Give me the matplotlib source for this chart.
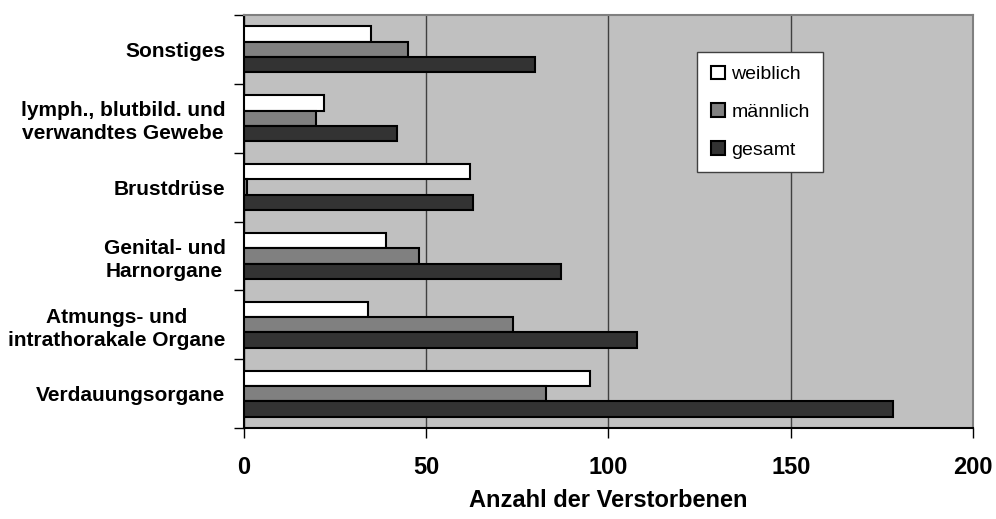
import numpy as np
import matplotlib.pyplot as plt

# Krebs-Todesursachen nach Lokalisation
kategorien = ["Verdauungsorgane",
              "Atmungs- und\nintrathorakale Organe",
              "Genital- und\nHarnorgane",
              "Brustdrüse",
              "lymph., blutbild. und\nverwandtes Gewebe",
              "Sonstiges"]
weiblich = [95, 34, 39, 62, 22, 35]
maennlich = [83, 74, 48, 1, 20, 45]
gesamt = [178, 108, 87, 63, 42, 80]

plt.rcParams['font.family'] = ['Liberation Sans', 'DejaVu Sans']

fig = plt.figure(figsize=(9.96, 5.19), dpi=100)
ax = fig.add_axes([0.2445, 0.1753, 0.7325, 0.7958])
ax.set_facecolor("#c0c0c0")

y = np.arange(len(kategorien))
h = 0.222
ax.barh(y + h, weiblich, height=h, color="white", edgecolor="black", linewidth=1.5, label="weiblich", zorder=3)
ax.barh(y, maennlich, height=h, color="#808080", edgecolor="black", linewidth=1.5, label="männlich", zorder=3)
ax.barh(y - h, gesamt, height=h, color="#333333", edgecolor="black", linewidth=1.5, label="gesamt", zorder=3)

ax.set_xlim(0, 200)
ax.set_ylim(-0.5, len(kategorien) - 0.5)
ax.set_xticks([0, 50, 100, 150, 200])
ax.set_xticklabels(["0", "50", "100", "150", "200"], fontsize=17, fontweight="bold")
ax.xaxis.grid(True, color="#404040", linewidth=1, zorder=1)
ax.tick_params(axis="x", direction="out", length=7, width=1, pad=13)

# Striche an den Kategoriegrenzen, Beschriftung in der Mitte
ax.set_yticks(np.arange(-0.5, len(kategorien), 1))
ax.set_yticklabels([])
ax.tick_params(axis="y", which="major", direction="out", length=7, width=1)
ax.set_yticks(y, minor=True)
ax.set_yticklabels(kategorien, minor=True, fontsize=15, fontweight="bold",
                   multialignment="center", linespacing=1.25)
ax.tick_params(axis="y", which="minor", length=0, pad=13)

for s in ["top", "right"]:
    ax.spines[s].set_color("#808080")
    ax.spines[s].set_linewidth(1.5)
for s in ["left", "bottom"]:
    ax.spines[s].set_color("black")
    ax.spines[s].set_linewidth(1.5)

leg = ax.legend(loc="upper left", bbox_to_anchor=(0.622, 0.91), borderaxespad=0,
                fancybox=False, framealpha=1, edgecolor="#404040",
                prop={"size": 14},
                handlelength=0.7, handleheight=0.7, handletextpad=0.35,
                labelspacing=1.03, borderpad=0.7)
leg.get_frame().set_linewidth(1)

fig.text(0.6104, 0.036, "Anzahl der Verstorbenen", ha="center", va="center",
         fontsize=17, fontweight="bold")

fig.savefig("out.png", dpi=100)
